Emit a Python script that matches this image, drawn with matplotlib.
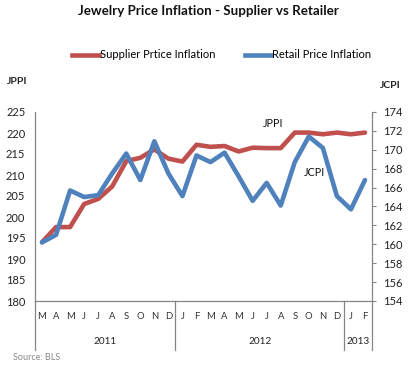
import matplotlib
matplotlib.use("Agg")
import matplotlib.pyplot as plt
from matplotlib.lines import Line2D
import matplotlib.transforms as mtransforms

months = ["M", "A", "M", "J", "J", "A", "S", "O", "N", "D",
          "J", "F", "M", "A", "M", "J", "J", "A", "S", "O", "N", "D",
          "J", "F"]
years = ["2011", "2012", "2013"]
year_spans = [(0, 10), (10, 22), (22, 24)]

supplier = [194.0, 197.6, 197.6, 203.1, 204.3, 207.3, 213.3, 214.1, 216.1, 213.9,
            213.2, 217.2, 216.7, 216.9, 215.6, 216.5, 216.4, 216.4, 220.1, 220.1,
            219.7, 220.1, 219.7, 220.1]
retail = [160.2, 161.0, 165.7, 165.0, 165.2, 167.5, 169.6, 166.8, 170.9, 167.5,
          165.1, 169.4, 168.7, 169.7, 167.2, 164.6, 166.5, 164.1, 168.7, 171.4,
          170.2, 165.1, 163.7, 166.8]

left_ticks = list(range(180, 226, 5))
right_ticks = list(range(154, 175, 2))

RED = "#C0504D"
BLUE = "#4F81BD"
GRAY = "#868686"
FONT = ["Lato", "DejaVu Sans"]
plt.rcParams["font.family"] = FONT

fig = plt.figure(figsize=(4.09, 3.65), dpi=100)
ax = fig.add_axes([35/409, 64/365, 337/409, 189/365])
ax2 = ax.twinx()

x = list(range(len(months)))
ax.plot(x, supplier, color=RED, lw=3.3, solid_capstyle="round", solid_joinstyle="round")
ax2.plot(x, retail, color=BLUE, lw=3.3, solid_capstyle="round", solid_joinstyle="round")

ax.set_xlim(-0.5, len(months) - 0.5)
ax.set_ylim(180, 225)
ax2.set_ylim(154, 174)
ax.set_yticks(left_ticks)
ax2.set_yticks(right_ticks)
ax.tick_params(axis="y", length=0, labelsize=8, pad=7, labelcolor="#222222")
ax2.tick_params(axis="y", length=3, width=0.8, color=GRAY, labelsize=8, pad=5, labelcolor="#222222")
ax.set_xticks(x)
ax.set_xticklabels(months)
ax.tick_params(axis="x", length=0, labelsize=6.8, pad=8, labelcolor="#333333")

for a in (ax, ax2):
    a.spines["top"].set_visible(False)
    for s in ("left", "right", "bottom"):
        a.spines[s].set_color(GRAY)
        a.spines[s].set_linewidth(0.9)
ax2.spines["left"].set_visible(False)
ax.spines["right"].set_visible(False)
ax2.spines["bottom"].set_visible(False)

# year group separators and labels
trans = mtransforms.blended_transform_factory(ax.transData, ax.transAxes)
bounds = sorted(set([s for s, e in year_spans] + [e for s, e in year_spans]))
for b in bounds:
    ax.add_line(Line2D([b - 0.5, b - 0.5], [0, -0.26], transform=trans,
                       color=GRAY, lw=0.9, clip_on=False))
for (s, e), yr in zip(year_spans, years):
    ax.text((s + e - 1) / 2, -0.215, yr, transform=trans, ha="center", va="center",
            fontsize=7.2, color="#222222")

# axis titles
fig.text(17/409, 1 - 82/365, "JPPI", ha="center", va="center", fontsize=7.5,
         fontweight="bold", color="#222222")
fig.text(390/409, 1 - 85/365, "JCPI", ha="center", va="center", fontsize=7.5,
         fontweight="bold", color="#222222")

# annotations
fig.text(273/409, 1 - 123/365, "JPPI", ha="center", va="center", fontsize=7.8, color="#111111")
fig.text(314/409, 1 - 173/365, "JCPI", ha="center", va="center", fontsize=7.8, color="#111111")

# title
fig.text(208/409, 1 - 11/365, "Jewelry Price Inflation - Supplier vs Retailer",
         ha="center", va="center", fontsize=9.6, fontweight="bold", color="#111111")

# legend
handles = [Line2D([], [], color=RED, lw=3.3), Line2D([], [], color=BLUE, lw=3.3)]
fig.legend(handles, ["Supplier Prtice Inflation", "Retail Price Inflation"],
           loc="center", bbox_to_anchor=(222/409, 1 - 55/365), ncol=2, frameon=False,
           fontsize=8, handlelength=2.4, handletextpad=0.1, columnspacing=2.6)

fig.text(13/409, 1 - 357/365, "Source: BLS", ha="left", va="center", fontsize=6.5, color="#8a8a8a")

fig.savefig("out.png", dpi=100)
